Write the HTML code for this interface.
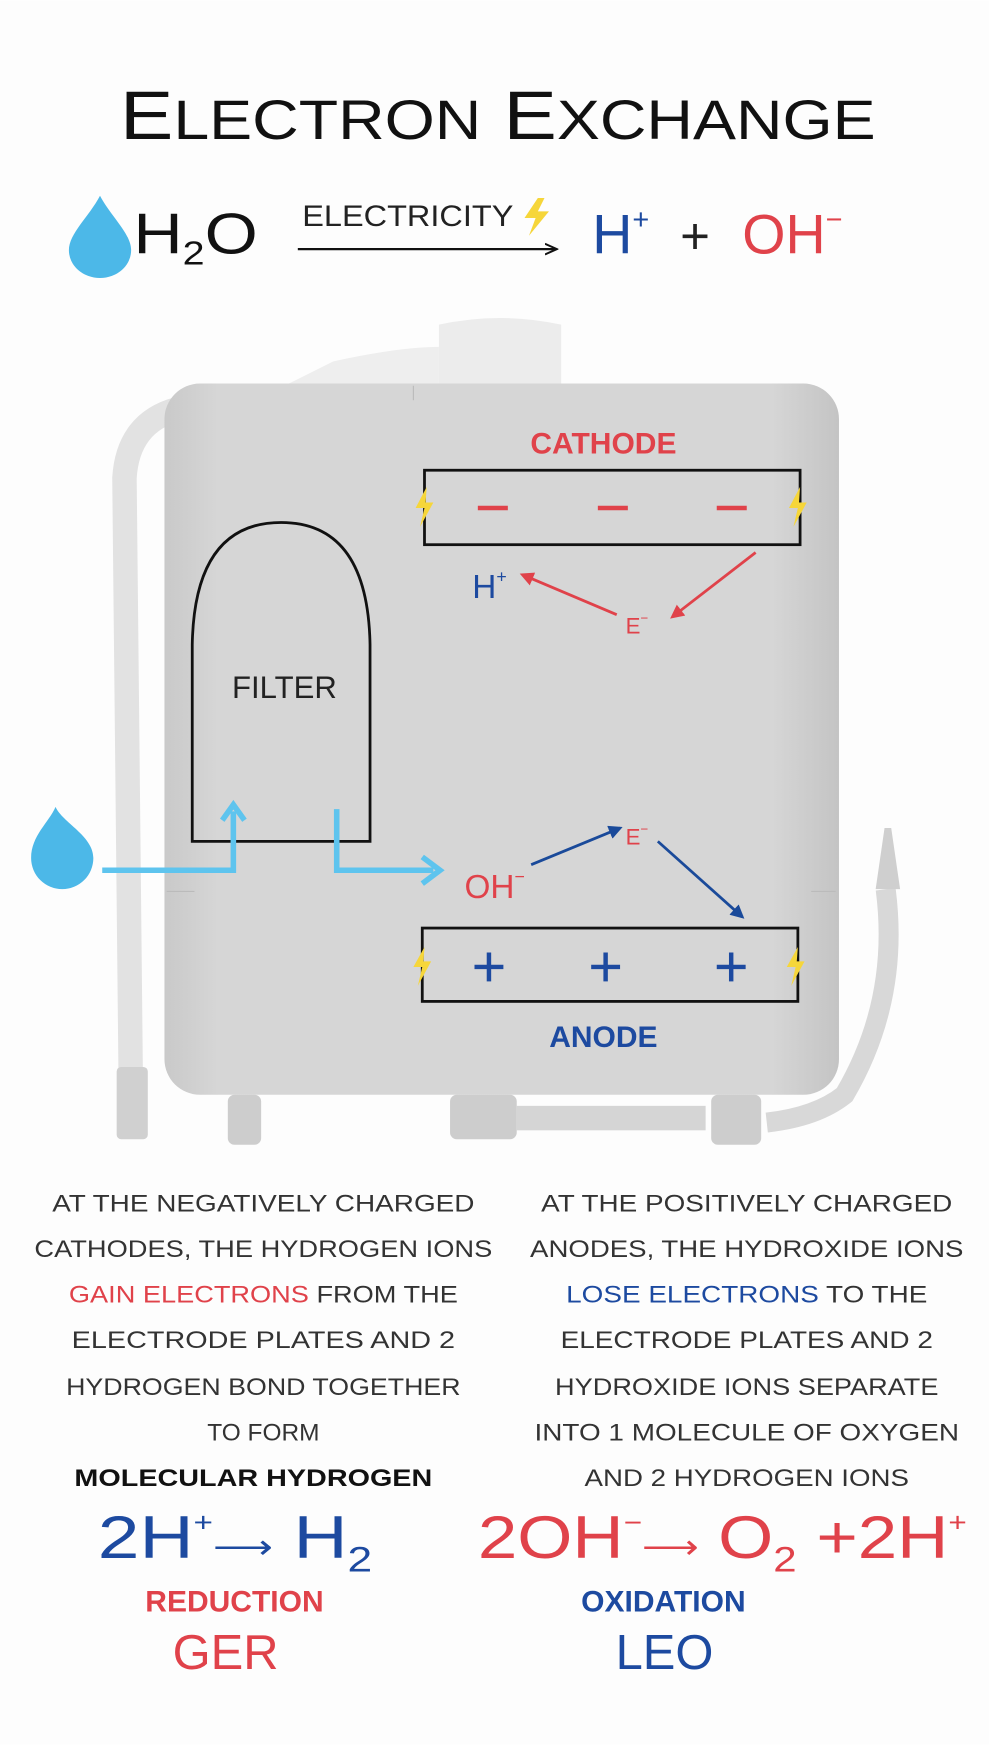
<!DOCTYPE html>
<html><head><meta charset="utf-8"><style>
html,body{margin:0;padding:0;background:#fff;}
svg{display:block;}
text{font-family:"Liberation Sans",sans-serif;}
</style></head><body>
<svg width="989" height="1745" viewBox="0 0 890 1570" xmlns="http://www.w3.org/2000/svg">
<defs>
<marker id="ar" viewBox="0 0 10 10" refX="8" refY="5" markerWidth="5" markerHeight="5" orient="auto"><path d="M0,0 L10,5 L0,10 z" fill="#e0424a"/></marker>
<marker id="ab" viewBox="0 0 10 10" refX="8" refY="5" markerWidth="5" markerHeight="5" orient="auto"><path d="M0,0 L10,5 L0,10 z" fill="#1a4a9a"/></marker>
<marker id="ak" viewBox="0 0 10 10" refX="8" refY="5" markerWidth="6" markerHeight="6" orient="auto"><path d="M0,1 L9,5 L0,9" fill="none" stroke="#111" stroke-width="1.5"/></marker>
<linearGradient id="body" x1="0" x2="1"><stop offset="0" stop-color="#c9c9c9"/><stop offset="0.08" stop-color="#d6d6d6"/><stop offset="0.9" stop-color="#d6d6d6"/><stop offset="1" stop-color="#c4c4c4"/></linearGradient>
</defs>
<rect width="890" height="1570" fill="#fdfdfd"/>
<!-- title -->
<text x="448" y="125" text-anchor="middle" font-size="62" fill="#111" textLength="680" lengthAdjust="spacingAndGlyphs">E<tspan font-size="50">LECTRON</tspan> E<tspan font-size="50">XCHANGE</tspan></text>
<!-- equation row -->
<path d="M90,176 C80,195 62,210 62,225 A28,25 0 0 0 118,225 C118,210 100,195 90,176 z" fill="#4cb8e8"/>
<text x="120" y="228" font-size="52" fill="#111" textLength="112" lengthAdjust="spacingAndGlyphs">H<tspan font-size="30" dy="10">2</tspan><tspan dy="-10">O</tspan></text>
<text x="272" y="203" font-size="27" fill="#222" textLength="190" lengthAdjust="spacingAndGlyphs">ELECTRICITY</text>
<path d="M484,178 L472,196 L482,196 L476,212 L494,190 L484,190 L490,178 z" fill="#f6d63a"/>
<line x1="268" y1="224" x2="500" y2="224" stroke="#111" stroke-width="2" marker-end="url(#ak)"/>
<text x="533" y="228" font-size="50" fill="#1d4aa0">H<tspan font-size="26" dy="-22">+</tspan></text>
<text x="612" y="228" font-size="46" fill="#222">+</text>
<text x="668" y="228" font-size="50" fill="#e0424a">OH<tspan font-size="26" dy="-22">−</tspan></text>
<!-- machine -->
<path d="M395,292 Q450,280 505,292 L505,345 L395,345 z" fill="#ececec"/>
<path d="M300,325 Q360,312 395,312 L395,345 L260,345 z" fill="#eeeeee"/>
<path d="M118,1005 L112,430 Q115,380 160,368" fill="none" stroke="#e2e2e2" stroke-width="22" stroke-linecap="round"/>
<rect x="105" y="960" width="28" height="65" rx="4" fill="#d0d0d0"/>
<rect x="148" y="345" width="607" height="640" rx="32" fill="url(#body)"/>
<line x1="372" y1="347" x2="372" y2="360" stroke="#bbb"/>
<line x1="150" y1="802" x2="175" y2="802" stroke="#bbb"/>
<line x1="730" y1="802" x2="752" y2="802" stroke="#bbb"/>
<path d="M797,800 Q810,900 760,985 Q735,1005 690,1010" fill="none" stroke="#d8d8d8" stroke-width="18"/>
<path d="M788,800 L796,745 L802,745 L810,800 z" fill="#cfcfcf"/>
<rect x="205" y="985" width="30" height="45" rx="6" fill="#cdcdcd"/>
<rect x="405" y="985" width="60" height="40" rx="6" fill="#cdcdcd"/>
<rect x="465" y="995" width="170" height="22" fill="#d5d5d5"/>
<rect x="640" y="985" width="45" height="45" rx="6" fill="#cdcdcd"/>
<!-- cathode -->
<text x="543" y="408" text-anchor="middle" font-size="27" font-weight="bold" fill="#e0424a">CATHODE</text>
<rect x="382" y="423" width="338" height="67" fill="none" stroke="#111" stroke-width="2.5"/>
<g stroke="#e0424a" stroke-width="4"><line x1="430" y1="457" x2="457" y2="457"/><line x1="538" y1="457" x2="565" y2="457"/><line x1="645" y1="457" x2="672" y2="457"/></g>
<g fill="#f6d63a"><path d="M384,438 L374,457 L382,457 L378,474 L390,452 L383,452 z"/><path d="M720,438 L710,457 L718,457 L714,474 L726,452 L719,452 z"/></g>
<text x="425" y="538" font-size="30" fill="#1d4aa0">H<tspan font-size="16" dy="-14">+</tspan></text>
<line x1="680" y1="497" x2="605" y2="555" stroke="#e0424a" stroke-width="2.5" marker-end="url(#ar)"/>
<line x1="555" y1="553" x2="470" y2="517" stroke="#e0424a" stroke-width="2.5" marker-end="url(#ar)"/>
<text x="563" y="570" font-size="20" fill="#e0424a">E<tspan font-size="12" dy="-10">−</tspan></text>
<!-- filter -->
<path d="M173,757 L173,580 Q175,470 253,470 Q331,470 333,580 L333,757 z" fill="none" stroke="#111" stroke-width="2.5"/>
<text x="256" y="628" text-anchor="middle" font-size="28" fill="#222">FILTER</text>
<path d="M50,726 C44,740 28,752 28,772 A28,28 0 0 0 84,772 C84,752 56,740 50,726 z" fill="#4cb8e8"/>
<path d="M92,783 L210,783 L210,730" fill="none" stroke="#5ec4ee" stroke-width="5"/>
<path d="M200,738 L210,724 L220,738" fill="none" stroke="#5ec4ee" stroke-width="5"/>
<path d="M303,728 L303,783 L390,783" fill="none" stroke="#5ec4ee" stroke-width="5"/>
<path d="M380,771 L396,783 L380,795" fill="none" stroke="#5ec4ee" stroke-width="5"/>
<!-- anode -->
<text x="418" y="808" font-size="30" fill="#e0424a">OH<tspan font-size="16" dy="-14">−</tspan></text>
<line x1="478" y1="778" x2="558" y2="745" stroke="#1a4a9a" stroke-width="2.5" marker-end="url(#ab)"/>
<text x="563" y="760" font-size="20" fill="#e0424a">E<tspan font-size="12" dy="-10">−</tspan></text>
<line x1="592" y1="757" x2="668" y2="825" stroke="#1a4a9a" stroke-width="2.5" marker-end="url(#ab)"/>
<rect x="380" y="835" width="338" height="66" fill="none" stroke="#111" stroke-width="2.5"/>
<g stroke="#1d4aa0" stroke-width="4"><line x1="427" y1="870" x2="453" y2="870"/><line x1="440" y1="857" x2="440" y2="883"/><line x1="532" y1="870" x2="558" y2="870"/><line x1="545" y1="857" x2="545" y2="883"/><line x1="645" y1="870" x2="671" y2="870"/><line x1="658" y1="857" x2="658" y2="883"/></g>
<g fill="#f6d63a"><path d="M382,852 L372,870 L380,870 L376,887 L388,865 L381,865 z"/><path d="M718,852 L708,870 L716,870 L712,887 L724,865 L717,865 z"/></g>
<text x="543" y="942" text-anchor="middle" font-size="27" font-weight="bold" fill="#1d4aa0">ANODE</text>
<!-- text columns -->
<g font-size="22" fill="#333" text-anchor="middle">
<text x="237" y="1090" textLength="380" lengthAdjust="spacingAndGlyphs">AT THE NEGATIVELY CHARGED</text>
<text x="237" y="1131" textLength="412" lengthAdjust="spacingAndGlyphs">CATHODES, THE HYDROGEN IONS</text>
<text x="237" y="1172" textLength="350" lengthAdjust="spacingAndGlyphs"><tspan fill="#e0424a">GAIN ELECTRONS</tspan> FROM THE</text>
<text x="237" y="1213" textLength="345" lengthAdjust="spacingAndGlyphs">ELECTRODE PLATES AND 2</text>
<text x="237" y="1255" textLength="355" lengthAdjust="spacingAndGlyphs">HYDROGEN BOND TOGETHER</text>
<text x="237" y="1296">TO FORM</text>
<text x="228" y="1337" fill="#111" font-weight="bold" textLength="322" lengthAdjust="spacingAndGlyphs">MOLECULAR HYDROGEN</text>
<text x="672" y="1090" textLength="370" lengthAdjust="spacingAndGlyphs">AT THE POSITIVELY CHARGED</text>
<text x="672" y="1131" textLength="390" lengthAdjust="spacingAndGlyphs">ANODES, THE HYDROXIDE IONS</text>
<text x="672" y="1172" textLength="325" lengthAdjust="spacingAndGlyphs"><tspan fill="#1d4aa0">LOSE ELECTRONS</tspan> TO THE</text>
<text x="672" y="1213" textLength="335" lengthAdjust="spacingAndGlyphs">ELECTRODE PLATES AND 2</text>
<text x="672" y="1255" textLength="345" lengthAdjust="spacingAndGlyphs">HYDROXIDE IONS SEPARATE</text>
<text x="672" y="1296" textLength="382" lengthAdjust="spacingAndGlyphs">INTO 1 MOLECULE OF OXYGEN</text>
<text x="672" y="1337" textLength="292" lengthAdjust="spacingAndGlyphs">AND 2 HYDROGEN IONS</text>
</g>
<!-- equations -->
<text x="88" y="1402" font-size="54" fill="#1d4aa0" textLength="247" lengthAdjust="spacingAndGlyphs">2H<tspan font-size="24" dy="-24">+</tspan><tspan dy="24" font-size="30">⟶</tspan> H<tspan font-size="32" dy="12">2</tspan></text>
<text x="430" y="1402" font-size="54" fill="#e0424a" textLength="440" lengthAdjust="spacingAndGlyphs">2OH<tspan font-size="24" dy="-24">−</tspan><tspan dy="24" font-size="30">⟶</tspan> O<tspan font-size="32" dy="12">2</tspan><tspan dy="-12"> +2H</tspan><tspan font-size="24" dy="-24">+</tspan></text>
<text x="211" y="1450" text-anchor="middle" font-size="27" font-weight="bold" fill="#e0424a">REDUCTION</text>
<text x="203" y="1502" text-anchor="middle" font-size="44" fill="#e0424a">GER</text>
<text x="597" y="1450" text-anchor="middle" font-size="27" font-weight="bold" fill="#1d4aa0">OXIDATION</text>
<text x="598" y="1502" text-anchor="middle" font-size="44" fill="#1d4aa0">LEO</text>
</svg>
</body></html>
